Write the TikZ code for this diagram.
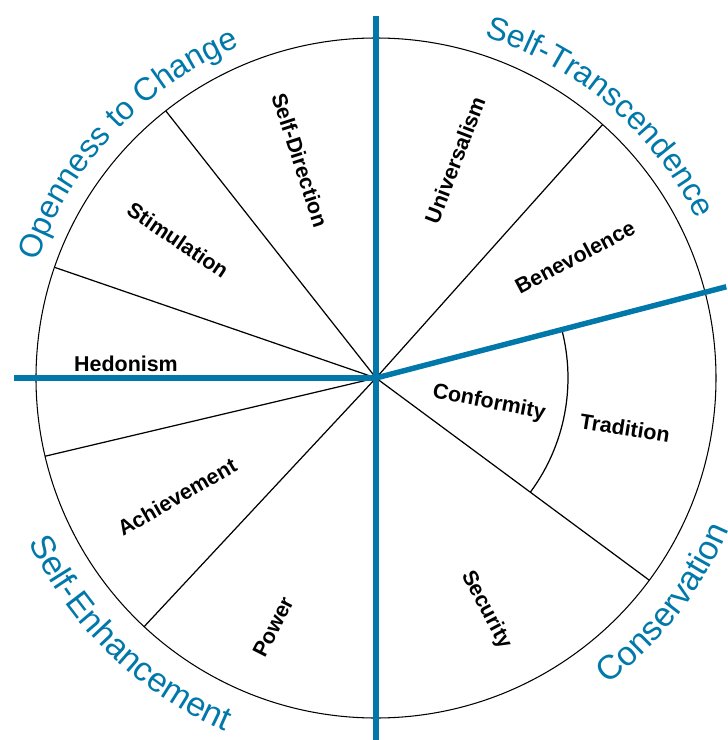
\documentclass[tikz,border=0pt]{standalone}
\usepackage{fontspec}
\setmainfont{Liberation Sans}
\usepackage{tikz}
\usetikzlibrary{decorations.text}
\definecolor{valblue}{RGB}{0, 120, 170}
\newcommand{\topfont}{\fontsize{18.3}{21}\selectfont}
\newcommand{\lowfont}{\fontsize{19.3}{22}\selectfont}

\begin{document}
\begin{tikzpicture}[scale=0.02, line width=0.7pt,
  value/.style={font=\bfseries\fontsize{12.2}{14}\selectfont, inner sep=0pt},
  axis/.style={color=valblue, line width=3.1pt},
  group/.style={decorate, decoration={text along path, text color=valblue,
      text={#1}}}]

  \useasboundingbox (-376, -362) rectangle (352, 378);

  % circle and the borders between values
  \draw[line width=0.6pt] (0, 0) circle (340);
  \foreach \a in {48.2, 128.2, 161, 193.3, 227, -36.5} {
    \draw (0, 0) -- (\a:340);
  }
  \draw (14.6:192) arc[start angle=14.6, end angle=-36.5, radius=192];

  % the four higher order axes
  \foreach \a in {90, 180, 270, 14.6} {
    \draw[axis] (0, 0) -- (\a:362);
  }

  % higher order names round the circle
  \path[group={|\topfont|Openness to Change}] (161:358) arc[start angle=161, end angle=95, radius=358];
  \path[group={|\topfont|Self-Transcendence}] (72.4:358) arc[start angle=72.4, end angle=15, radius=358];
  \path[group={|\lowfont|Self-Enhancement}] (205.3:384) arc[start angle=205.3, end angle=265, radius=384];
  \path[group={|\lowfont|Conservation}] (-53:384) arc[start angle=-53, end angle=5, radius=384];

  % values
  \node[value, rotate=-72] (selfdir) at (-76, 218) {Self-Direction};
  \node[value, rotate=69] (univ) at (79, 218) {Universalism};
  \node[value, rotate=28] (benev) at (199, 121) {Benevolence};
  \node[value, rotate=-34] (stim) at (-198, 138) {Stimulation};
  \node[value] (hedon) at (-250, 14.5) {Hedonism};
  \node[value, rotate=30] (achiev) at (-199, -119) {Achievement};
  \node[value, rotate=63] (power) at (-103, -249) {Power};
  \node[value, rotate=-62] (secur) at (110, -232) {Security};
  \node[value, rotate=-11] (conf) at (113, -25) {Conformity};
  \node[value, rotate=-9] (trad) at (249, -50) {Tradition};

\end{tikzpicture}
\end{document}
